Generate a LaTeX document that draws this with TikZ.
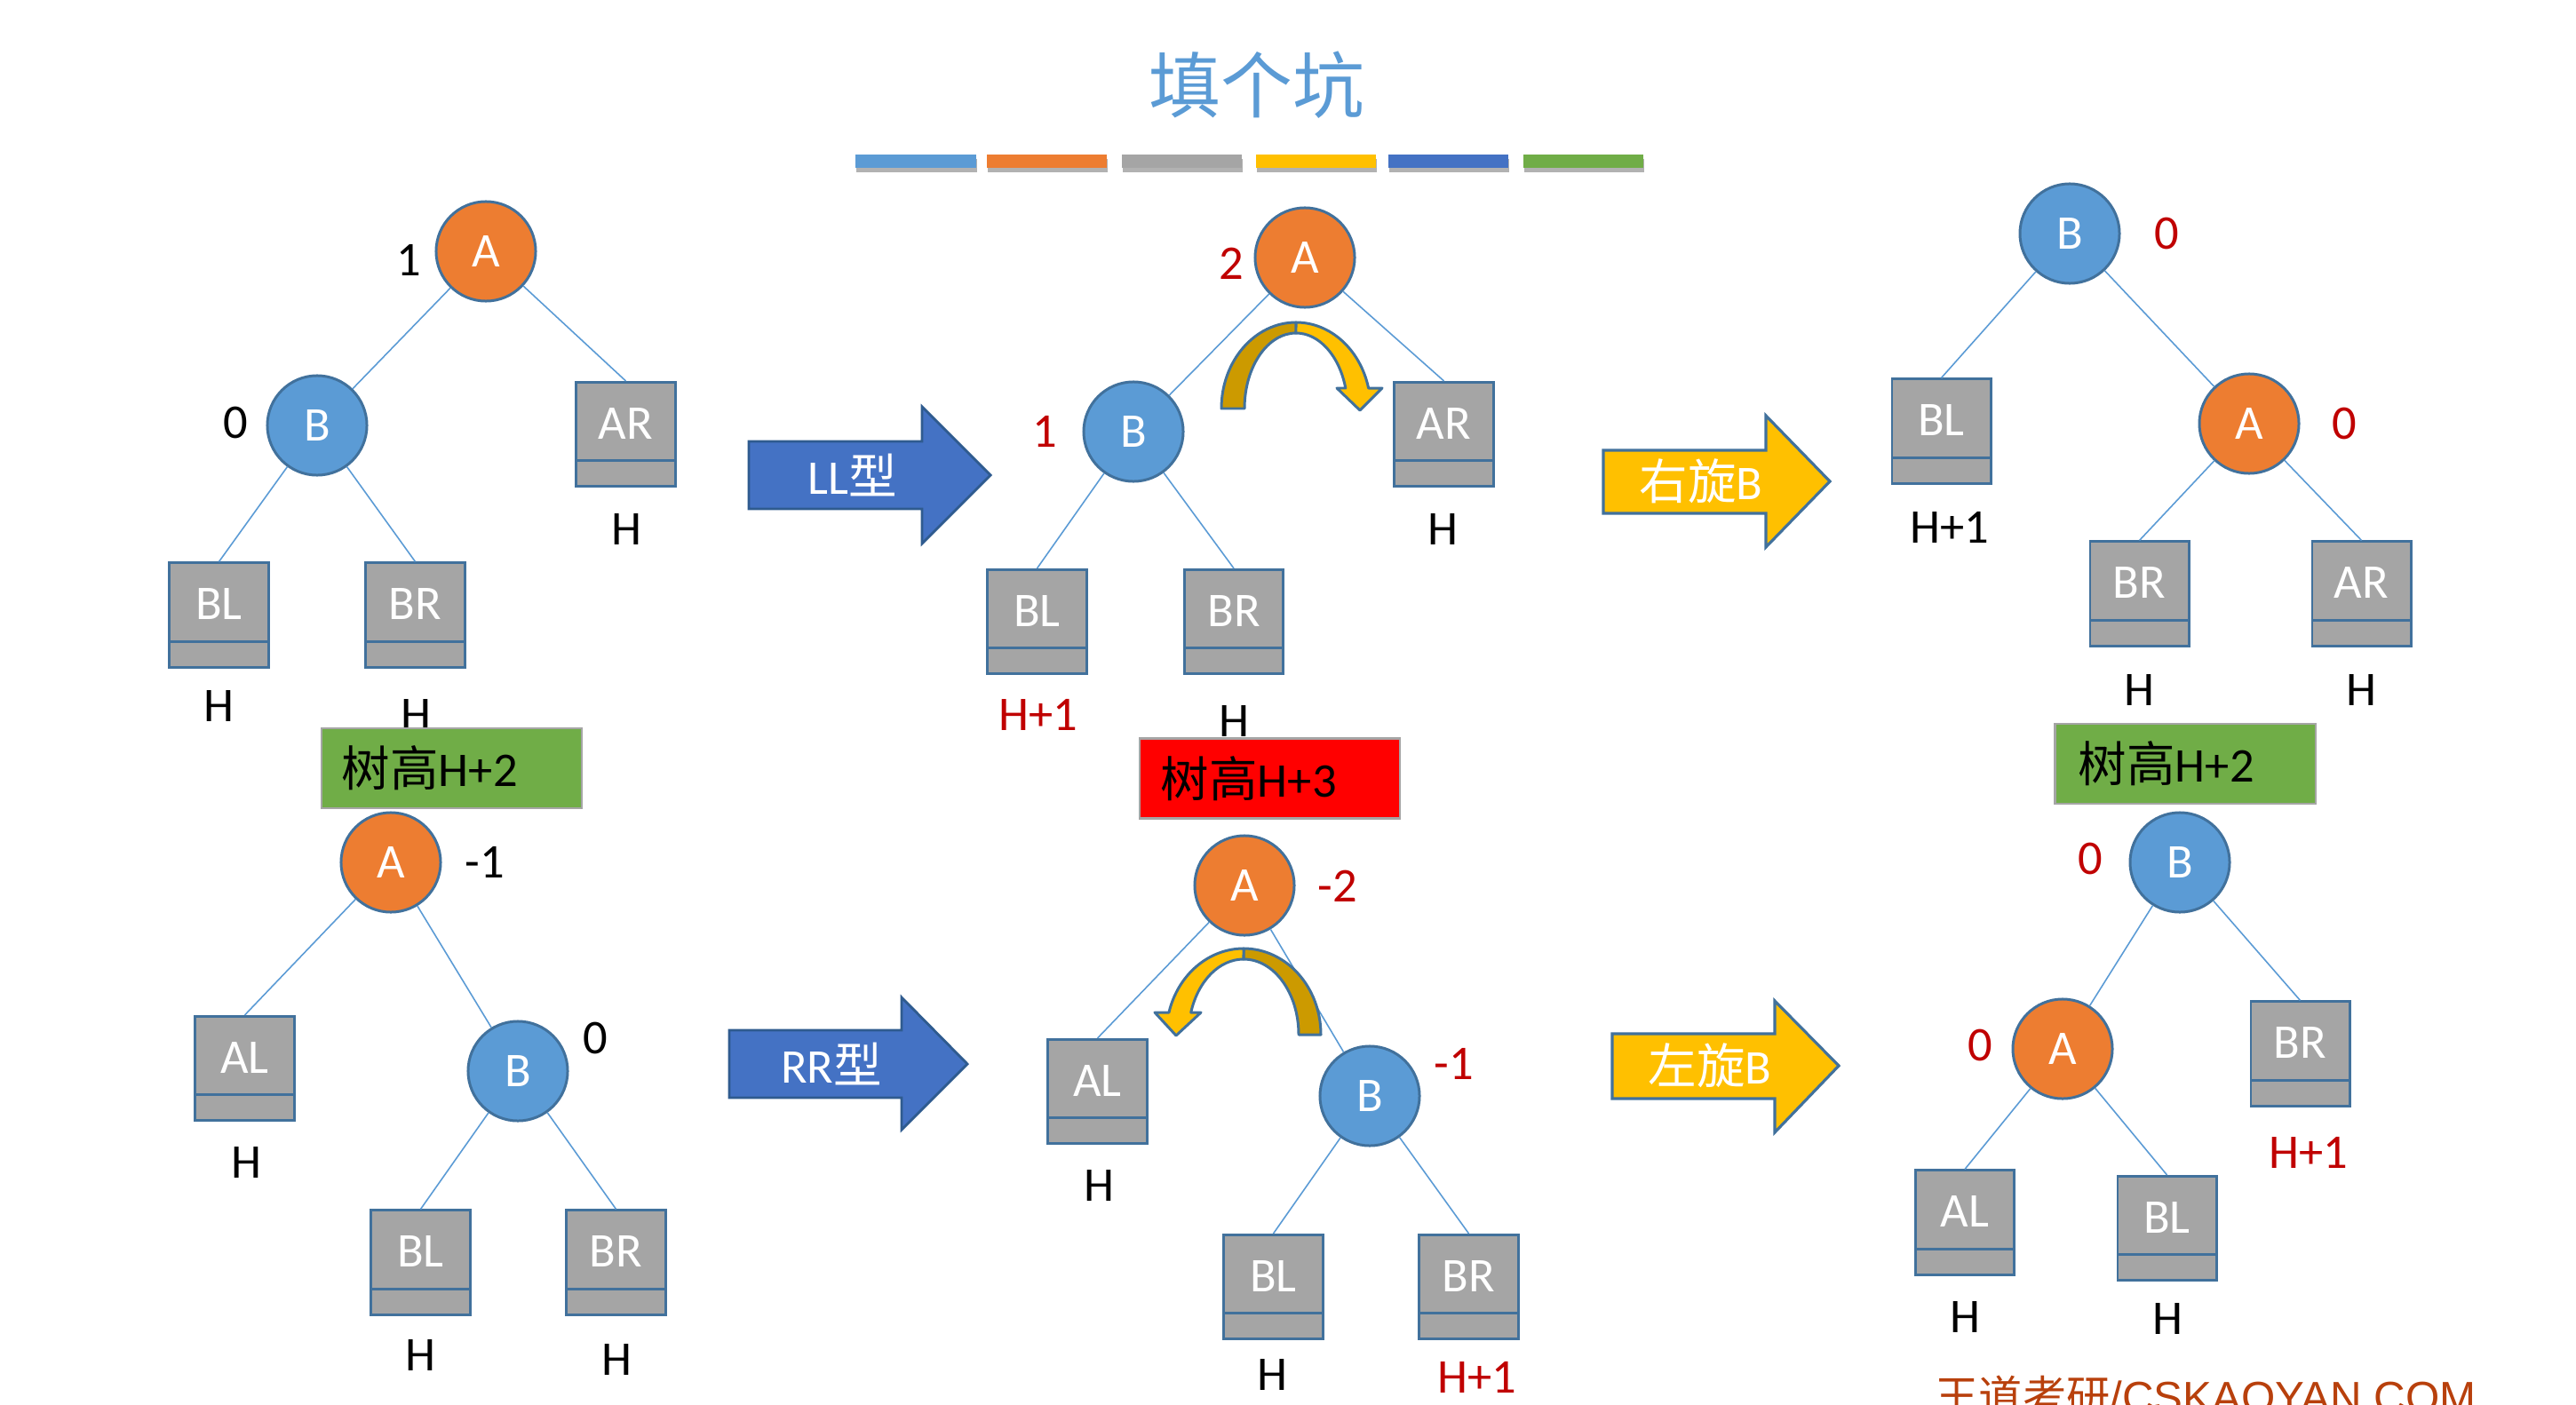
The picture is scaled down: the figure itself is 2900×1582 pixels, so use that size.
\documentclass[tikz,border=0pt]{standalone}
\usepackage{fontspec}
\setmainfont{Carlito}
\newfontfamily\cjk{Noto Sans CJK SC}
\newfontfamily\arialfont{Liberation Sans}
\usetikzlibrary{shadows}
\definecolor{cblue}{HTML}{5B9BD5}
\definecolor{corange}{HTML}{ED7D31}
\definecolor{cgray}{HTML}{A5A5A5}
\definecolor{cyellow}{HTML}{FFC000}
\definecolor{cdblue}{HTML}{4472C4}
\definecolor{cgreen}{HTML}{70AD47}
\definecolor{cborder}{HTML}{41719C}
\definecolor{carrowborder}{HTML}{2F5B8F}
\definecolor{cred}{HTML}{C00000}
\definecolor{cdark}{HTML}{CC9A00}
\definecolor{cfoot}{RGB}{184,64,12}
\newcommand\lblfont{\fontsize{15.5}{18}\selectfont}
\newcommand\treebox[4]{%
  \node[tbox] (#1) at (#2,#3) {};
  \node[tboxtxt] (#1t) at ([yshift=0.12cm]#1.center) {#4};}
\tikzset{
  lbl/.style={font=\lblfont, inner sep=0},
  redlbl/.style={lbl, text=cred},
  circ/.style={circle, draw=cborder, line width=0.85pt, minimum size=1.12cm, inner sep=0, text=white, font=\lblfont},
  anode/.style={circ, fill=corange},
  bnode/.style={circ, fill=cblue},
  tbox/.style={draw=cborder, fill=cgray, line width=0.85pt, minimum width=1.11cm, minimum height=1.17cm, inner sep=0,
    path picture={\draw[cborder, line width=0.85pt] ([yshift=0.29cm]path picture bounding box.south west) -- ([yshift=0.29cm]path picture bounding box.south east);}},
  tboxtxt/.style={text=white, font=\lblfont, inner sep=0},
  treeline/.style={cblue, line width=0.45pt},
  hbox/.style={draw=cgray, line width=0.6pt, minimum width=2.93cm, minimum height=0.9cm, text width=2.47cm, inner xsep=0.23cm, align=left, font=\lblfont},
  arrowtxt/.style={text=white, font=\lblfont, inner sep=0},
  colbar/.style={drop shadow={shadow xshift=0.01cm, shadow yshift=-0.05cm, opacity=0.3, fill=black}},
  curvline/.style={draw=cborder, line width=0.85pt, line join=round}
}
\begin{document}
\begin{tikzpicture}[x=0.01cm, y=0.01cm]
\useasboundingbox (0,0) rectangle (2900,-1582);
\clip (0,0) rectangle (2900,-1582);
\fill[white] (0,0) rectangle (2900,-1582);

% title
\node[text=cblue, font=\cjk\fontsize{23}{26}\selectfont, inner sep=0] (title) at (1415,-96) {填个坑};
\fill[cblue, colbar]   (963,-174) rectangle (1099,-189);
\fill[corange, colbar] (1111,-174) rectangle (1246,-189);
\fill[cgray, colbar]   (1263,-174) rectangle (1398,-189);
\fill[cyellow, colbar] (1414,-174) rectangle (1549,-189);
\fill[cdblue, colbar]  (1563,-174) rectangle (1698,-189);
\fill[cgreen, colbar]  (1715,-174) rectangle (1850,-189);

% ---------- top-left tree ----------
\node[anode] (A1) at (547,-283) {A};
\node[bnode] (B1) at (357,-479) {B};
\node[lbl] (fA1) at (460,-293) {1};
\node[lbl] (fB1) at (265,-476) {0};
\treebox{AR1}{704.5}{-489}{AR}
\treebox{BL1}{246.5}{-692.5}{BL}
\treebox{BR1}{467.5}{-692.5}{BR}
\node[lbl] (hAR1) at (705,-596) {H};
\node[lbl] (hBL1) at (246,-795) {H};
\node[lbl] (hBR1) at (468,-805) {H};
\draw[treeline] (A1) -- (B1);
\draw[treeline] (A1) -- (AR1.north);
\draw[treeline] (B1) -- (BL1.north);
\draw[treeline] (B1) -- (BR1.north);
\node[hbox, fill=cgreen] (g1) at (508.5,-865) {{\cjk 树高}H+2};

% LL arrow
\draw[fill=cdblue, draw=carrowborder, line width=0.8pt, line join=miter]
  (843,-497) -- (1038,-497) -- (1038,-458) -- (1115,-535) -- (1038,-612) -- (1038,-573) -- (843,-573) -- cycle;
\node[arrowtxt] (ll) at (960,-535) {LL{\cjk 型}};

% ---------- top-middle tree ----------
\node[anode] (A2) at (1469,-290) {A};
\node[bnode] (B2) at (1276,-486) {B};
\node[redlbl] (fA2) at (1386,-297) {2};
\node[redlbl] (fB2) at (1176,-486) {1};
\treebox{AR2}{1625.5}{-489}{AR}
\treebox{BL2}{1167.5}{-700}{BL}
\treebox{BR2}{1389}{-700}{BR}
\node[lbl] (hAR2) at (1624,-596) {H};
\node[redlbl] (hBL2) at (1169,-805) {H+1};
\node[lbl] (hBR2) at (1389,-812) {H};
\draw[treeline] (A2) -- (B2);
\draw[treeline] (A2) -- (AR2.north);
\draw[treeline] (B2) -- (BL2.north);
\draw[treeline] (B2) -- (BR2.north);
\node[hbox, fill=red, text width=2.45cm, inner xsep=0.24cm] (r2) at (1429.5,-876.5) {{\cjk 树高}H+3};
% curved arrow (right rotation)
\fill[cdark, curvline] (1375,-460) arc[start angle=180, end angle=90, x radius=84, y radius=97]
  -- (1459,-375) arc[start angle=90, end angle=180, x radius=58, y radius=85] -- cycle;
\fill[cyellow, curvline] (1459,-363) arc[start angle=90, end angle=13.7, x radius=84, y radius=97]
  -- (1556,-437) -- (1531,-462) -- (1505,-437) -- (1514.8,-437)
  arc[start angle=15.7, end angle=90, x radius=58, y radius=85] -- cycle;

% 右旋B arrow
\draw[fill=cyellow, draw=cborder, line width=0.9pt, line join=miter]
  (1805,-507) -- (1988,-507) -- (1988,-468) -- (2060,-542) -- (1988,-616) -- (1988,-578) -- (1805,-578) -- cycle;
\node[arrowtxt] (rot1) at (1915,-542) {{\cjk 右旋}B};

% ---------- top-right tree ----------
\node[bnode] (B3) at (2330,-263) {B};
\node[anode] (A3) at (2532,-477) {A};
\node[redlbl] (fB3) at (2439,-263) {0};
\node[redlbl] (fA3) at (2639,-477) {0};
\treebox{BL3}{2185.5}{-485.5}{BL}
\treebox{BR3}{2408.5}{-668.5}{BR}
\treebox{AR3}{2658.5}{-668.5}{AR}
\node[lbl] (hBL3) at (2195,-594) {H+1};
\node[lbl] (hBR3) at (2408,-777) {H};
\node[lbl] (hAR3) at (2658,-777) {H};
\draw[treeline] (B3) -- (BL3.north);
\draw[treeline] (B3) -- (A3);
\draw[treeline] (A3) -- (BR3.north);
\draw[treeline] (A3) -- (AR3.north);
\node[hbox, fill=cgreen, text width=2.40cm, inner xsep=0.26cm] (g3) at (2460,-860) {{\cjk 树高}H+2};

% ---------- bottom-left tree ----------
\node[anode] (A4) at (440,-971) {A};
\node[bnode] (B4) at (583,-1206) {B};
\node[lbl] (fA4) at (546,-971) {-1};
\node[lbl] (fB4) at (670,-1169) {0};
\treebox{AL4}{275.5}{-1203}{AL}
\treebox{BL4}{473.5}{-1421.5}{BL}
\treebox{BR4}{693.5}{-1421.5}{BR}
\node[lbl] (hAL4) at (277,-1309) {H};
\node[lbl] (hBL4) at (473,-1526) {H};
\node[lbl] (hBR4) at (694,-1531) {H};
\draw[treeline] (A4) -- (AL4.north);
\draw[treeline] (A4) -- (B4);
\draw[treeline] (B4) -- (BL4.north);
\draw[treeline] (B4) -- (BR4.north);

% RR arrow
\draw[fill=cdblue, draw=carrowborder, line width=0.8pt, line join=miter]
  (821,-1160) -- (1015,-1160) -- (1015,-1123) -- (1089,-1198) -- (1015,-1272) -- (1015,-1236) -- (821,-1236) -- cycle;
\node[arrowtxt] (rr) at (936,-1198) {RR{\cjk 型}};

% ---------- bottom-middle tree ----------
\node[anode] (A5) at (1401,-997) {A};
\node[bnode] (B5) at (1542,-1234) {B};
\node[redlbl] (fA5) at (1506,-998) {-2};
\node[redlbl] (fB5) at (1637,-1198) {-1};
\treebox{AL5}{1235.5}{-1229}{AL}
\treebox{BL5}{1433.5}{-1449}{BL}
\treebox{BR5}{1653.5}{-1449}{BR}
\node[lbl] (hAL5) at (1237,-1335) {H};
\node[lbl] (hBL5) at (1432,-1548) {H};
\node[redlbl] (hBR5) at (1663,-1551) {H+1};
\draw[treeline] (A5) -- (AL5.north);
\draw[treeline] (A5) -- (B5);
\draw[treeline] (B5) -- (BL5.north);
\draw[treeline] (B5) -- (BR5.north);
% curved arrow (left rotation)
\fill[cdark, curvline] (1487,-1165) arc[start angle=0, end angle=90, x radius=87, y radius=97]
  -- (1400,-1080) arc[start angle=90, end angle=0, x radius=62, y radius=85] -- cycle;
\fill[cyellow, curvline] (1400,-1068) arc[start angle=90, end angle=165.1, x radius=87, y radius=97]
  -- (1300,-1140) -- (1324,-1166) -- (1352,-1140) -- (1340.7,-1140)
  arc[start angle=162.9, end angle=90, x radius=62, y radius=85] -- cycle;

% 左旋B arrow
\draw[fill=cyellow, draw=cborder, line width=0.9pt, line join=miter]
  (1815,-1164) -- (1998,-1164) -- (1998,-1127) -- (2070,-1200) -- (1998,-1275) -- (1998,-1237) -- (1815,-1237) -- cycle;
\node[arrowtxt] (rot2) at (1925,-1200) {{\cjk 左旋}B};

% ---------- bottom-right tree ----------
\node[bnode] (B6) at (2454,-971) {B};
\node[anode] (A6) at (2322,-1181) {A};
\node[redlbl] (fB6) at (2353,-967) {0};
\node[redlbl] (fA6) at (2229,-1177) {0};
\treebox{BR6}{2589.5}{-1186.5}{BR}
\treebox{AL6}{2212}{-1376.5}{AL}
\treebox{BL6}{2439.5}{-1383}{BL}
\node[redlbl] (hBR6) at (2599,-1298) {H+1};
\node[lbl] (hAL6) at (2212,-1483) {H};
\node[lbl] (hBL6) at (2440,-1485) {H};
\draw[treeline] (B6) -- (A6);
\draw[treeline] (B6) -- (BR6.north);
\draw[treeline] (A6) -- (AL6.north);
\draw[treeline] (A6) -- (BL6.north);

% footer
\node[anchor=base west, inner sep=0, text=cfoot, font=\arialfont\fontsize{14}{16}\selectfont] (foot) at (2178,-1590) {{\cjk 王道考研}/CSKAOYAN.COM};
\end{tikzpicture}
\end{document}
